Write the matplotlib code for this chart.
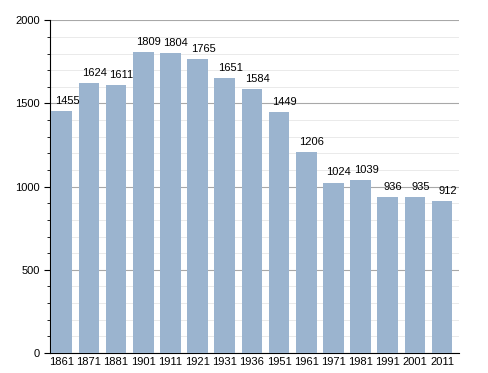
import matplotlib
matplotlib.use("Agg")
import matplotlib.pyplot as plt
from matplotlib.ticker import MultipleLocator

plt.rcParams["font.family"] = ["Liberation Sans", "DejaVu Sans"]

years = ["1861", "1871", "1881", "1901", "1911", "1921", "1931", "1936",
         "1951", "1961", "1971", "1981", "1991", "2001", "2011"]
population = [1455, 1624, 1611, 1809, 1804, 1765, 1651, 1584,
              1449, 1206, 1024, 1039, 936, 935, 912]

fig = plt.figure(figsize=(4.88, 3.73), dpi=100)
ax = fig.add_axes([0.1025, 0.0536, 0.838, 0.892])

width = 0.76
x = list(range(len(years)))
ax.bar(x, population, width=width, align="edge", color="#9bb4cf", zorder=3)

# value labels sit a bit to the right of the bar centre
for xi, v in zip(x, population):
    ax.text(xi + width / 2 + 0.2, v + 32, str(v), ha="center", va="bottom", fontsize=8)

ax.set_xlim(-0.05, len(years))
ax.set_ylim(0, 2000)
ax.set_xticks([xi + width / 2 for xi in x])
ax.set_xticklabels(years, fontsize=8)
ax.tick_params(axis="x", length=0, pad=3)

ax.yaxis.set_major_locator(MultipleLocator(500))
ax.yaxis.set_minor_locator(MultipleLocator(100))
ax.tick_params(axis="y", which="major", length=4, labelsize=8, direction="out")
ax.tick_params(axis="y", which="minor", length=2.5, direction="out")
ax.grid(axis="y", which="major", color="#a8a8a8", linewidth=0.8, zorder=1)
ax.grid(axis="y", which="minor", color="#e6e6e6", linewidth=0.6, zorder=1)

for side in ("top", "right"):
    ax.spines[side].set_visible(False)

fig.savefig("out.png", dpi=100)
